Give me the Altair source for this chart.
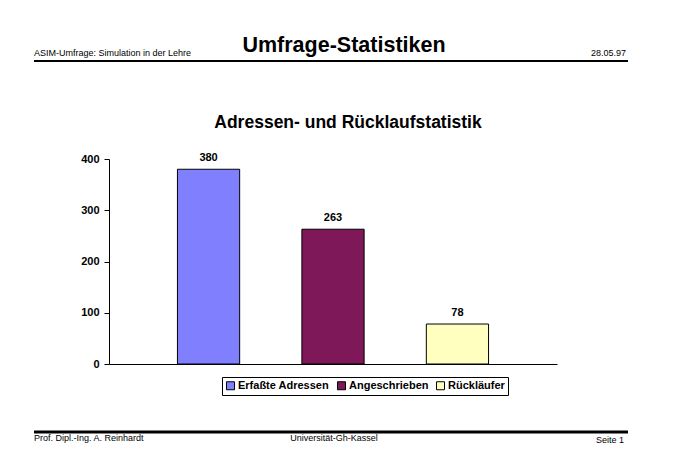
import altair as alt
import pandas as pd

# ---- data ----
categories = ["Erfaßte Adressen", "Angeschrieben", "Rückläufer"]
values = [380, 263, 78]
colors = ["#8080FF", "#7E1858", "#FFFFC0"]
y_ticks = [0, 100, 200, 300, 400]

page_title = "Umfrage-Statistiken"
header_left = "ASIM-Umfrage: Simulation in der Lehre"
header_right = "28.05.97"
chart_title = "Adressen- und Rücklaufstatistik"
footer_left = "Prof. Dipl.-Ing. A. Reinhardt"
footer_center = "Universität-Gh-Kassel"
footer_right = "Seite 1"

df = pd.DataFrame({"Serie": categories, "Wert": values})

FONT = "Liberation Sans"
W, H = 448, 205
PX, PY = 109, 159  # page position of the plot origin

x_enc = alt.X(
    "Serie:N", sort=categories,
    scale=alt.Scale(paddingInner=0.5, paddingOuter=0.55),
    axis=alt.Axis(labels=False, ticks=False, title=None, domainColor="black", domainWidth=1),
)
y_enc = alt.Y(
    "Wert:Q",
    scale=alt.Scale(domain=[0, 400], nice=False),
    axis=alt.Axis(values=y_ticks, title=None, grid=False, domainColor="black", tickColor="black",
                  tickSize=5, labelPadding=5, labelFont=FONT, labelFontSize=11,
                  labelFontWeight="bold", labelColor="black"),
)

bars = alt.Chart(df).mark_bar(stroke="black", strokeWidth=1).encode(
    x=x_enc, y=y_enc,
    color=alt.Color(
        "Serie:N", sort=categories,
        scale=alt.Scale(domain=categories, range=colors),
        legend=alt.Legend(
            orient="none", legendX=113, legendY=218, direction="horizontal", columns=3,
            title=None, strokeColor="black", fillColor="white", padding=3,
            symbolType="square", symbolSize=64, symbolStrokeColor="black", symbolStrokeWidth=1,
            labelFont=FONT, labelFontSize=11, labelFontWeight="bold", labelColor="black",
            columnPadding=5, symbolOffset=0, labelOffset=2, labelLimit=0,
        ),
    ),
)

bar_labels = alt.Chart(df).mark_text(
    dy=-8, baseline="alphabetic", font=FONT, fontSize=11, fontWeight="bold", color="black"
).encode(x=alt.X("Serie:N", sort=categories), y="Wert:Q", text="Wert:Q")


def txt(s, px, py, size, weight="normal", align="left"):
    return alt.Chart(alt.Data(values=[{}])).mark_text(
        text=s, font=FONT, fontSize=size, fontWeight=weight, align=align,
        baseline="alphabetic", color="black",
    ).encode(x=alt.value(px - PX), y=alt.value(py - PY))


def hline(x1, x2, py, w):
    return alt.Chart(alt.Data(values=[{}])).mark_rule(color="black", strokeWidth=w).encode(
        x=alt.value(x1 - PX), x2=alt.value(x2 - PX), y=alt.value(py - PY)
    )


annots = [
    txt(page_title, 344, 52, 21.5, "bold", "center"),
    txt(header_left, 34, 56, 9),
    txt(header_right, 626, 56, 9, align="right"),
    hline(34, 628, 61, 2),
    txt(chart_title, 348, 128, 17.5, "bold", "center"),
    hline(34, 628, 432, 3),
    txt(footer_left, 34, 441, 9),
    txt(footer_center, 334, 441, 9, align="center"),
    txt(footer_right, 624, 443, 9, align="right"),
]

chart = alt.layer(bars, bar_labels, *annots).properties(
    width=W, height=H,
    background="white",
    autosize=alt.AutoSizeParams(type="none"),
    padding={"left": PX - 8, "top": PY - 8, "right": 90, "bottom": 95},
).configure_view(strokeWidth=0, stroke=None)

chart.save("out.html", embed_options={"renderer": "svg", "actions": False})
